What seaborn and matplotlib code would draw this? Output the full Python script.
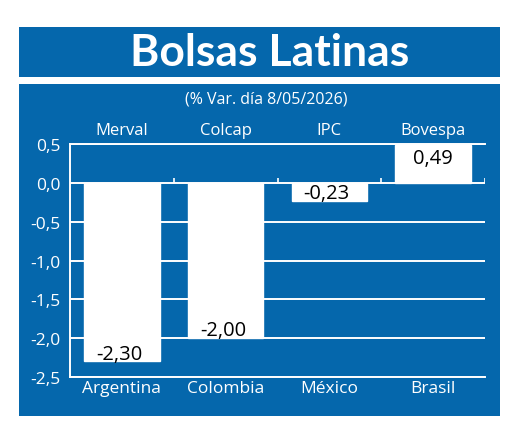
"""
Bolsas Latinas - % variacion diaria de los indices bursatiles
"""

import matplotlib
matplotlib.use("Agg")
import matplotlib.pyplot as plt
from matplotlib.patches import Rectangle
import pandas as pd
import seaborn as sns

sns.set_theme(style="white")
plt.rcParams["font.family"] = ["Open Sans", "DejaVu Sans"]

BLUE = "#0567AC"

countries = ["Argentina", "Colombia", "México", "Brasil"]
indices = ["Merval", "Colcap", "IPC", "Bovespa"]
variation = [-2.30, -2.00, -0.23, 0.49]
y_ticks = [-2.5, -2.0, -1.5, -1.0, -0.5, 0.0, 0.5]

title = "Bolsas Latinas"
subtitle = "(% Var. día 8/05/2026)"

df = pd.DataFrame({"País": countries, "Índice": indices, "Var": variation})


def comma(v, decimals):
    return f"{v:.{decimals}f}".replace(".", ",")


W, H = 520, 439
fig = plt.figure(figsize=(W / 100, H / 100), dpi=100)
fig.patch.set_facecolor("white")

# blue bands (pixel coords -> figure fraction)
def px_rect(x0, y0, x1, y1):
    return Rectangle((x0 / W, 1 - y1 / H), (x1 - x0) / W, (y1 - y0) / H,
                     transform=fig.transFigure, facecolor=BLUE,
                     edgecolor="none", zorder=-5)

fig.patches.append(px_rect(19, 28, 500, 78))
fig.patches.append(px_rect(19, 85, 500, 417))

fig.text(270 / W, 1 - 53 / H, title, color="white", fontsize=32,
         fontweight="bold", ha="center", va="center", family=["Lato", "DejaVu Sans"])
fig.text(266 / W, 1 - 99 / H, subtitle, color="white", fontsize=11.5,
         ha="center", va="center")

# plot area
ax_left, ax_right, ax_top, ax_bottom = 70, 485, 145, 378
ax = fig.add_axes([ax_left / W, 1 - ax_bottom / H,
                   (ax_right - ax_left) / W, (ax_bottom - ax_top) / H])
ax.set_facecolor(BLUE)

sns.barplot(data=df, x="País", y="Var", color="white", width=0.73,
            saturation=1, ax=ax, zorder=3)

ax.set_ylim(-2.5, 0.5)
ax.set_xlim(-0.5, len(countries) - 0.5)
ax.set_yticks(y_ticks)
ax.set_yticklabels([comma(v, 1) for v in y_ticks])
ax.set_xlabel("")
ax.set_ylabel("")

ax.set_axisbelow(True)
ax.yaxis.grid(True, color="white", linewidth=1.4)
ax.xaxis.grid(False)

for side in ["left", "bottom", "top"]:
    ax.spines[side].set_visible(True)
    ax.spines[side].set_color("white")
    ax.spines[side].set_linewidth(1.4)
ax.spines["right"].set_visible(False)

ax.tick_params(axis="y", length=0, pad=7, labelcolor="white", labelsize=12.5)
ax.tick_params(axis="x", length=0, pad=2, labelcolor="white", labelsize=12.5)

# small upward ticks on the zero line between categories
for i in range(len(countries)):
    ax.vlines(i + 0.5, 0, 0.06, color="white", linewidth=1.2, zorder=2)

# index names on top
top = ax.secondary_xaxis("top")
top.set_xticks(range(len(indices)))
top.set_xticklabels(indices)
top.tick_params(length=0, pad=4, labelcolor="white", labelsize=12)
top.spines["top"].set_visible(False)

# value labels inside the bars
for i, v in enumerate(variation):
    if v < 0:
        ax.annotate(comma(v, 2), (i, v), xytext=(-2, 2), textcoords="offset points",
                    ha="center", va="baseline", fontsize=14.5, color="black", zorder=4)
    else:
        ax.annotate(comma(v, 2), (i, v), xytext=(0, -2), textcoords="offset points",
                    ha="center", va="top", fontsize=14.5, color="black", zorder=4)

fig.savefig("out.png", dpi=100, facecolor="white")
